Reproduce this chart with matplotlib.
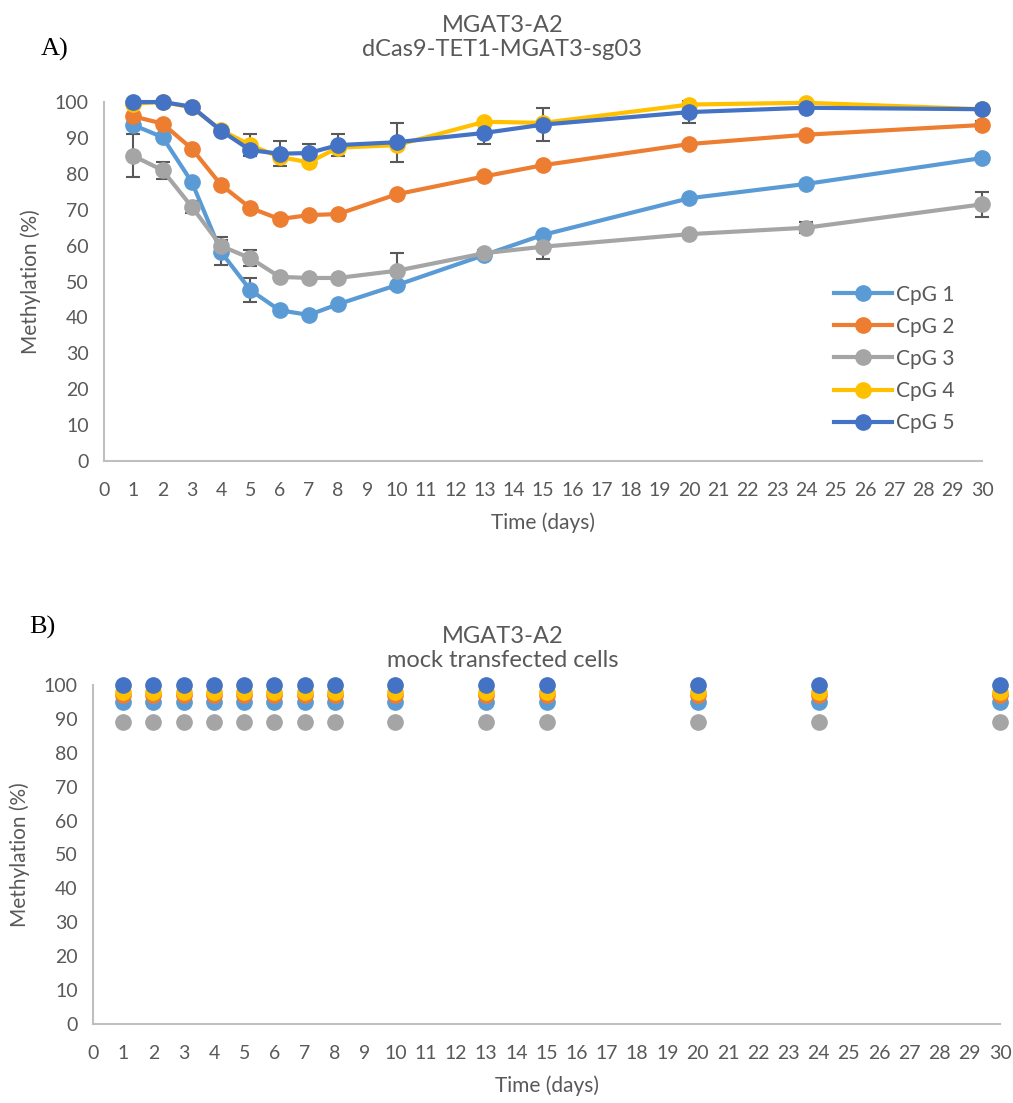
import matplotlib
matplotlib.use("Agg")
import matplotlib.pyplot as plt

plt.rcParams['font.family'] = ['Lato', 'DejaVu Sans']

days = [1, 2, 3, 4, 5, 6, 7, 8, 10, 13, 15, 20, 24, 30]
labels = ['CpG 1', 'CpG 2', 'CpG 3', 'CpG 4', 'CpG 5']
colors = ['#5b9bd5', '#ed7d31', '#a5a5a5', '#ffc000', '#4472c4']

# panel A: dCas9-TET1-MGAT3-sg03
cpg1 = [93.6, 90.2, 77.7, 58.2, 47.6, 42.0, 40.7, 43.7, 49.0, 57.4, 63.0, 73.2, 77.2, 84.4]
cpg2 = [96.0, 94.0, 87.0, 76.9, 70.5, 67.4, 68.5, 68.8, 74.3, 79.3, 82.4, 88.3, 90.9, 93.6]
cpg3 = [85.0, 81.0, 70.8, 59.9, 56.5, 51.3, 51.0, 51.0, 53.0, 57.9, 59.7, 63.2, 65.0, 71.5]
cpg4 = [99.5, 100.0, 98.5, 92.2, 88.0, 84.7, 83.2, 87.3, 88.0, 94.5, 94.2, 99.3, 99.8, 98.0]
cpg5 = [100.0, 100.0, 98.7, 92.0, 86.6, 85.6, 85.8, 88.0, 88.8, 91.4, 93.7, 97.2, 98.4, 98.0]

err1 = [0, 0, 0, 3.5, 3.3, 0, 0, 0, 0, 0, 0, 0, 0, 0]
err2 = [0, 0, 0, 0, 0, 0, 0, 0, 0, 0, 0, 0, 0, 1.0]
err3 = [6.0, 2.4, 1.6, 2.5, 2.2, 0, 0, 0, 5.0, 0.8, 3.3, 0, 1.5, 3.5]
err4 = [0, 0, 0, 0, 3.0, 0, 0, 0, 0, 0, 0, 0, 0, 0]
err5 = [0, 0, 0, 1.0, 0, 3.5, 2.5, 3.0, 5.4, 3.0, 4.5, 3.0, 0, 1.0]

# panel B: mock transfected cells
mock1 = [95] * len(days)
mock2 = [97] * len(days)
mock3 = [89] * len(days)
mock4 = [98] * len(days)
mock5 = [100] * len(days)

fig = plt.figure(figsize=(10.13, 11.03), dpi=100)
ax1 = fig.add_axes([0.1027, 0.582, 0.8667, 0.3255])
ax2 = fig.add_axes([0.0918, 0.0716, 0.8954, 0.3074])

grey = '#bfbfbf'
txt = '#595959'


def style(ax):
    ax.set_xlim(0, 30)
    ax.set_ylim(0, 100)
    ax.set_xticks(range(0, 31))
    ax.set_yticks(range(0, 101, 10))
    for s in ['top', 'right']:
        ax.spines[s].set_visible(False)
    for s in ['left', 'bottom']:
        ax.spines[s].set_color(grey)
        ax.spines[s].set_linewidth(1.5)
    ax.tick_params(length=0, labelsize=14, colors=txt)
    ax.tick_params(axis='y', pad=11)
    ax.tick_params(axis='x', pad=15)
    ax.set_xlabel('Time (days)', fontsize=15, color=txt, labelpad=10)
    ax.set_ylabel('Methylation (%)', fontsize=15, color=txt, labelpad=10)


series = [cpg1, cpg2, cpg3, cpg4, cpg5]
errs = [err1, err2, err3, err4, err5]
for y, e, c, lab in zip(series, errs, colors, labels):
    ax1.errorbar(days, y, yerr=e, color=c, ecolor='#595959', elinewidth=1.5,
                 capsize=5, capthick=1.5, lw=3, marker='o', ms=11, label=lab,
                 clip_on=False, zorder=3)
style(ax1)
h, l = ax1.get_legend_handles_labels()
h = [x[0] for x in h]
ax1.legend(h, l, loc='center left', bbox_to_anchor=(0.81, 0.285), frameon=False,
           fontsize=15, labelcolor=txt, handlelength=2.8, handletextpad=0.2,
           labelspacing=0.58)

for y, c in zip([mock1, mock2, mock3, mock4, mock5], colors):
    ax2.plot(days, y, 'o', color=c, ms=11, clip_on=False, zorder=3)
style(ax2)

fig.text(0.496, 0.966, 'MGAT3-A2\ndCas9-TET1-MGAT3-sg03', ha='center', va='center',
         fontsize=17, color=txt, linespacing=1.2)
fig.text(0.496, 0.412, 'MGAT3-A2\nmock transfected cells', ha='center', va='center',
         fontsize=17, color=txt, linespacing=1.2)
fig.text(0.04, 0.955, 'A)', fontsize=19, family='Liberation Serif', va='center')
fig.text(0.029, 0.431, 'B)', fontsize=19, family='Liberation Serif', va='center')

fig.savefig('out.png', dpi=100)
